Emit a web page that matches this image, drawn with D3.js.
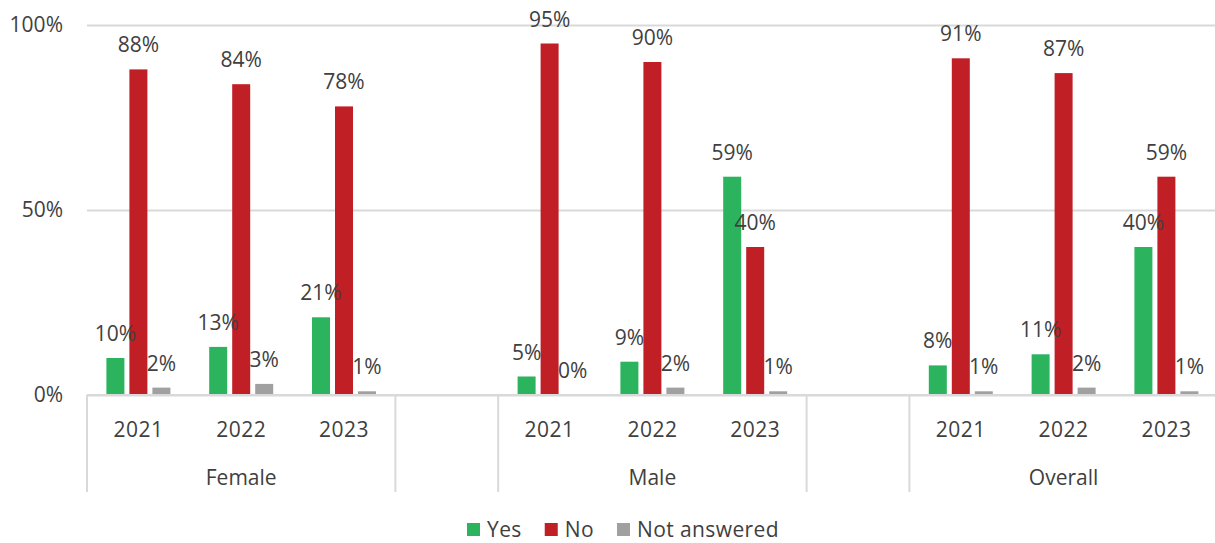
<!DOCTYPE html>
<html>
<head>
<meta charset="utf-8">
<script src="https://cdn.jsdelivr.net/npm/d3@7"></script>
<style>
  body { margin: 0; background: #fff; }
  text { font-family: "Open Sans", sans-serif; fill: #404040; }
</style>
</head>
<body>
<div id="chart"></div>
<script>
// chart data
var groups = ["Female", "Male", "Overall"];
var years = ["2021", "2022", "2023"];
var seriesNames = ["Yes", "No", "Not answered"];
var yesVals = [10, 13, 21, 5, 9, 59, 8, 11, 40];
var noVals = [88, 84, 78, 95, 90, 40, 91, 87, 59];
var naVals = [2, 3, 1, 0, 2, 1, 1, 2, 1];
var yTicks = [0, 50, 100];

var colors = ["#2bb35e", "#c01f26", "#a0a0a0"];

// dimensions
var W = 1215, H = 543;
var left = 87, slotW = 102.8;
var plotTop = 25, base = 395;
var fs = "21px";

var svg = d3.select("#chart")
    .append("svg")
    .attr("width", W)
    .attr("height", H);

// one slot per year, plus an empty slot between groups
var nSlots = groups.length * (years.length + 1) - 1;
var x = d3.scaleBand()
    .domain(d3.range(nSlots))
    .range([left, left + nSlots * slotW]);

var y = d3.scaleLinear()
    .domain([0, 100])
    .range([base, plotTop]);

// bar position inside a slot
var xSub = d3.scaleBand()
    .domain(seriesNames)
    .range([-32, 32])
    .paddingInner(5 / 23);

// gridlines + y labels
var yAxis = svg.append("g")
    .attr("transform", "translate(" + left + ",0)")
    .call(d3.axisLeft(y)
        .tickValues(yTicks)
        .tickSize(-(W - left))
        .tickPadding(24)
        .tickFormat(function (d) { return d + "%"; }));
yAxis.select(".domain").remove();
yAxis.selectAll("line").attr("stroke", "#d9d9d9").attr("stroke-width", 2);
yAxis.selectAll("text")
    .style("font-size", fs)
    .style("font-family", "'Open Sans', sans-serif")
    .attr("fill", "#404040");

// build rows
var rows = [];
groups.forEach(function (g, gi) {
    years.forEach(function (yr, yi) {
        var k = gi * years.length + yi;
        rows.push({
            slot: gi * (years.length + 1) + yi,
            year: yr,
            vals: [yesVals[k], noVals[k], naVals[k]]
        });
    });
});

// bars
var cat = svg.append("g")
    .selectAll("g")
    .data(rows)
    .enter().append("g")
    .attr("transform", function (d) { return "translate(" + (x(d.slot) + x.bandwidth() / 2) + ",0)"; });

cat.selectAll("rect")
    .data(function (d) { return seriesNames.map(function (s, i) { return { key: s, i: i, value: d.vals[i] }; }); })
    .enter().append("rect")
    .attr("x", function (d) { return xSub(d.key); })
    .attr("y", function (d) { return y(d.value); })
    .attr("width", xSub.bandwidth())
    .attr("height", function (d) { return base - y(d.value); })
    .attr("fill", function (d) { return colors[d.i]; });

// data labels
cat.selectAll("text.lbl")
    .data(function (d) { return seriesNames.map(function (s, i) { return { key: s, i: i, value: d.vals[i] }; }); })
    .enter().append("text")
    .attr("class", "lbl")
    .attr("x", function (d) { return xSub(d.key) + xSub.bandwidth() / 2; })
    .attr("y", function (d) { return y(d.value) - 17; })
    .attr("text-anchor", "middle")
    .style("font-size", fs)
    .text(function (d) { return d.value + "%"; });

// x axis: baseline, separators, year + group labels
svg.append("line")
    .attr("x1", left).attr("x2", W)
    .attr("y1", base).attr("y2", base)
    .attr("stroke", "#d9d9d9").attr("stroke-width", 2);

var seps = [];
groups.forEach(function (g, gi) {
    var s0 = gi * (years.length + 1);
    seps.push(x(s0));
    seps.push(x(s0) + years.length * slotW);
});
svg.append("g")
    .selectAll("line")
    .data(seps)
    .enter().append("line")
    .attr("x1", function (d) { return d; })
    .attr("x2", function (d) { return d; })
    .attr("y1", base)
    .attr("y2", 492)
    .attr("stroke", "#d9d9d9")
    .attr("stroke-width", 2);

svg.append("g")
    .selectAll("text")
    .data(rows)
    .enter().append("text")
    .attr("x", function (d) { return x(d.slot) + x.bandwidth() / 2; })
    .attr("y", 437)
    .attr("text-anchor", "middle")
    .style("font-size", fs)
    .style("letter-spacing", "0.5px")
    .text(function (d) { return d.year; });

svg.append("g")
    .selectAll("text")
    .data(groups)
    .enter().append("text")
    .attr("x", function (d, gi) { return x(gi * (years.length + 1)) + years.length * slotW / 2; })
    .attr("y", 485)
    .attr("text-anchor", "middle")
    .style("font-size", fs)
    .text(function (d) { return d; });

// legend
var legend = svg.append("g");
var lx = 0;
seriesNames.forEach(function (s, i) {
    var item = legend.append("g").attr("transform", "translate(" + lx + ",0)");
    item.append("rect")
        .attr("x", 0).attr("y", 523)
        .attr("width", 13).attr("height", 13)
        .attr("fill", colors[i]);
    var t = item.append("text")
        .attr("x", 20).attr("y", 537)
        .style("font-size", fs)
        .style("letter-spacing", "0.4px")
        .text(s);
    lx += 20 + t.node().getComputedTextLength() + 23;
});
var lw = lx - 23;
legend.attr("transform", "translate(" + (623 - lw / 2) + ",0)");
</script>
</body>
</html>
